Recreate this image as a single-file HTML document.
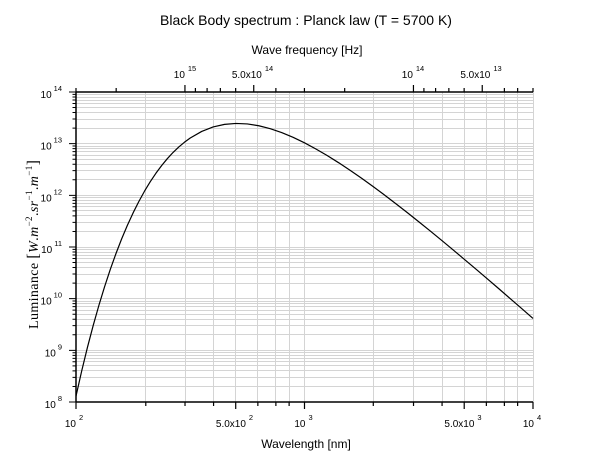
<!DOCTYPE html>
<html>
<head>
<meta charset="utf-8">
<style>
html,body{margin:0;padding:0;background:#fff;}
svg{display:block;}
text{font-family:"Liberation Sans",Arial,sans-serif;fill:#000;}
.serif{font-family:"Liberation Serif","Times New Roman",serif;}
</style>
</head>
<body>
<svg width="610" height="460" viewBox="0 0 610 460" xmlns="http://www.w3.org/2000/svg">
<rect x="0" y="0" width="610" height="460" fill="#fff"/>

<!-- horizontal grid -->
<path fill="none" stroke="#d4d4d4" stroke-width="1" d="
M76 386.5H533M76 377.5H533M76 370.5H533M76 365.5H533M76 361.5H533M76 358.5H533M76 355.5H533M76 352.5H533M76 350.5H533
M76 334.5H533M76 325.5H533M76 319.5H533M76 314.5H533M76 310.5H533M76 306.5H533M76 303.5H533M76 301.5H533M76 298.5H533
M76 283.5H533M76 274.5H533M76 267.5H533M76 262.5H533M76 258.5H533M76 255.5H533M76 252.5H533M76 249.5H533M76 247.5H533
M76 231.5H533M76 222.5H533M76 215.5H533M76 210.5H533M76 206.5H533M76 203.5H533M76 200.5H533M76 197.5H533M76 195.5H533
M76 179.5H533M76 170.5H533M76 164.5H533M76 159.5H533M76 155.5H533M76 151.5H533M76 148.5H533M76 146.5H533M76 143.5H533
M76 128.5H533M76 119.5H533M76 112.5H533M76 107.5H533M76 103.5H533M76 100.5H533M76 97.5H533M76 94.5H533"/>
<!-- vertical grid -->
<path fill="none" stroke="#d4d4d4" stroke-width="1" d="
M145.5 92V402M185.5 92V402M213.5 92V402M235.5 92V402M257.5 92V402M275.5 92V402M289.5 92V402M304.5 92V402
M373.5 92V402M413.5 92V402M442.5 92V402M464.5 92V402M486.5 92V402M504.5 92V402M517.5 92V402M533.5 92V402"/>

<!-- curve -->
<polyline fill="none" stroke="#000" stroke-width="1.2" stroke-linejoin="round" points="
76,396.13 81.71,370.89 87.43,347.45 93.14,325.67 98.85,305.48 104.56,286.77 110.28,269.47 115.99,253.50
121.7,238.77 127.41,225.25 133.13,212.83 138.84,201.49 144.55,191.11 150.26,181.69 155.98,173.16 161.69,165.46
167.4,158.56 173.11,152.40 178.83,146.95 184.54,142.16 190.25,138.01 201.68,131.44 213.1,126.97 224.53,124.38
235.95,123.44 247.38,123.96 258.8,125.76 270.23,128.69 281.65,132.59 293.08,137.35 304.5,142.84 315.93,148.97
327.35,155.66 338.78,162.81 350.2,170.38 361.63,178.30 373.05,186.52 384.48,195.01 395.9,203.73 407.33,212.64
418.75,221.73 430.18,230.97 441.6,240.34 453.03,249.83 464.45,259.41 475.88,269.08 487.3,278.83 498.73,288.64
510.15,298.52 521.58,308.44 533,318.41"/>

<!-- axes lines -->
<path fill="none" stroke="#000" stroke-width="1.5" d="M76 92H533M76 402H533M76 92V402"/>

<!-- left ticks -->
<path fill="none" stroke="#000" stroke-width="1" d="
M69 402H76M69 350.33H76M69 298.67H76M69 247H76M69 195.33H76M69 143.67H76M69 92H76
M72.5 386.45H76M72.5 377.35H76M72.5 370.89H76M72.5 365.89H76M72.5 361.8H76M72.5 358.34H76M72.5 355.34H76M72.5 352.7H76
M72.5 334.78H76M72.5 325.68H76M72.5 319.23H76M72.5 314.22H76M72.5 310.13H76M72.5 306.67H76M72.5 303.67H76M72.5 301.03H76
M72.5 283.11H76M72.5 274.02H76M72.5 267.56H76M72.5 262.55H76M72.5 258.46H76M72.5 255H76M72.5 252.01H76M72.5 249.36H76
M72.5 231.45H76M72.5 222.35H76M72.5 215.89H76M72.5 210.89H76M72.5 206.8H76M72.5 203.34H76M72.5 200.34H76M72.5 197.7H76
M72.5 179.78H76M72.5 170.68H76M72.5 164.23H76M72.5 159.22H76M72.5 155.13H76M72.5 151.67H76M72.5 148.67H76M72.5 146.03H76
M72.5 128.11H76M72.5 119.02H76M72.5 112.56H76M72.5 107.55H76M72.5 103.46H76M72.5 100H76M72.5 97.01H76M72.5 94.36H76"/>

<!-- bottom ticks -->
<path fill="none" stroke="#000" stroke-width="1.2" d="
M76 402V409M235.71 402V409M304.5 402V409M464.21 402V409M533 402V409
M145.79 402V406M185.02 402V406M213.57 402V406M257.86 402V406M275.88 402V406M289.13 402V406
M373.29 402V406M413.52 402V406M442.07 402V406M486.36 402V406M504.38 402V406M517.63 402V406"/>

<!-- top ticks -->
<path fill="none" stroke="#000" stroke-width="1.2" d="
M184.95 92V85M253.74 92V85M413.45 92V85M482.24 92V85
M76 92V88M533 92V88
M116.17 92V88M195.41 92V88M207.1 92V88M220.35 92V88M235.65 92V88M275.88 92V88M304.43 92V88M344.67 92V88
M423.91 92V88M435.6 92V88M448.85 92V88M464.15 92V88M504.38 92V88M517.64 92V88"/>

<!-- title -->
<text x="306" y="25" font-size="14" text-anchor="middle">Black Body spectrum : Planck law (T = 5700 K)</text>
<text x="307" y="54" font-size="12" text-anchor="middle">Wave frequency [Hz]</text>
<text x="306" y="448" font-size="12" text-anchor="middle">Wavelength [nm]</text>

<!-- top tick labels -->
<g font-size="10" text-anchor="middle">
<text x="185" y="78">10<tspan font-size="7.5" dx="3" dy="-7">15</tspan></text>
<text x="252.5" y="78">5.0x10<tspan font-size="7.5" dx="3" dy="-7">14</tspan></text>
<text x="413" y="78">10<tspan font-size="7.5" dx="3" dy="-7">14</tspan></text>
<text x="481" y="78">5.0x10<tspan font-size="7.5" dx="3" dy="-7">13</tspan></text>
</g>

<!-- bottom tick labels -->
<g font-size="10" text-anchor="middle">
<text x="74" y="427">10<tspan font-size="7.5" dx="3" dy="-7">2</tspan></text>
<text x="234.5" y="427">5.0x10<tspan font-size="7.5" dx="3" dy="-7">2</tspan></text>
<text x="303.5" y="427">10<tspan font-size="7.5" dx="3" dy="-7">3</tspan></text>
<text x="463" y="427">5.0x10<tspan font-size="7.5" dx="3" dy="-7">3</tspan></text>
<text x="532" y="427">10<tspan font-size="7.5" dx="3" dy="-7">4</tspan></text>
</g>

<!-- left tick labels -->
<g font-size="10" text-anchor="end">
<text x="62" y="98">10<tspan font-size="7.5" dx="2" dy="-7">14</tspan></text>
<text x="62" y="149.67">10<tspan font-size="7.5" dx="2" dy="-7">13</tspan></text>
<text x="62" y="201.33">10<tspan font-size="7.5" dx="2" dy="-7">12</tspan></text>
<text x="62" y="253">10<tspan font-size="7.5" dx="2" dy="-7">11</tspan></text>
<text x="62" y="304.67">10<tspan font-size="7.5" dx="2" dy="-7">10</tspan></text>
<text x="62" y="356.33">10<tspan font-size="7.5" dx="2" dy="-7">9</tspan></text>
<text x="62" y="408">10<tspan font-size="7.5" dx="2" dy="-7">8</tspan></text>
</g>

<!-- y axis label -->
<text class="serif" transform="translate(38,329) rotate(-90)" font-size="14" textLength="169" lengthAdjust="spacing">Luminance <tspan font-size="16">[</tspan><tspan font-style="italic">W</tspan>.<tspan font-style="italic">m</tspan><tspan font-size="9" dy="-6">−2</tspan><tspan dy="6">.</tspan><tspan font-style="italic">sr</tspan><tspan font-size="9" dy="-6">−1</tspan><tspan dy="6">.</tspan><tspan font-style="italic">m</tspan><tspan font-size="9" dy="-6">−1</tspan><tspan font-size="16" dy="6">]</tspan></text>
</svg>
</body>
</html>
